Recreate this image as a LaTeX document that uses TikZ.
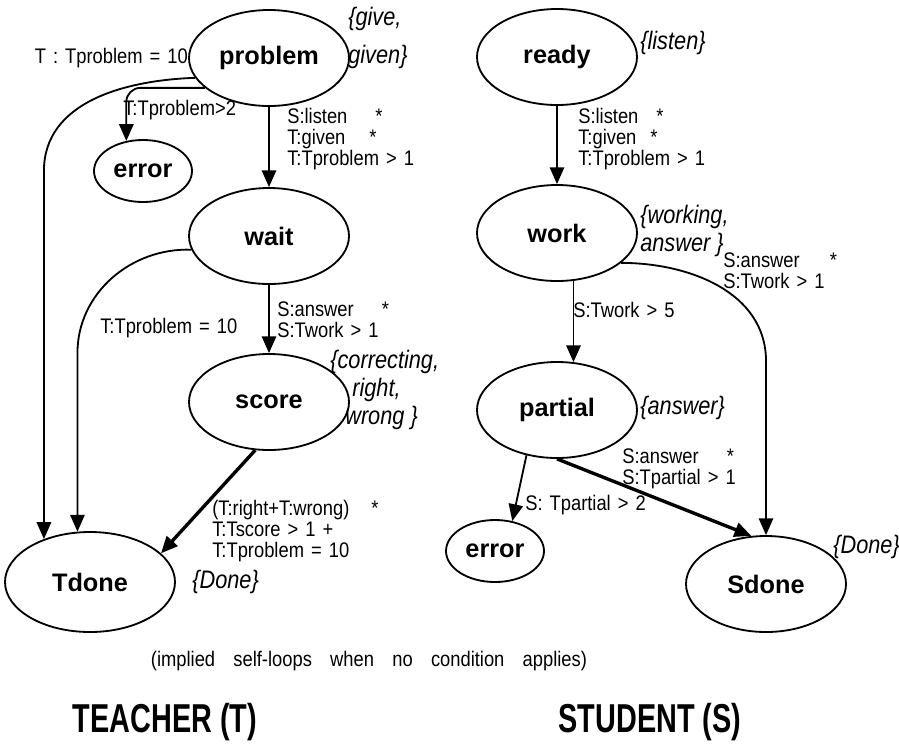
\documentclass[tikz,border=0pt]{standalone}
\usepackage{fontspec}
\setmainfont{Liberation Sans}
\newfontfamily\condfam[FakeStretch=0.87]{Liberation Sans}
\newfontfamily\tagfam[FakeStretch=0.86]{Liberation Sans}
\usepackage{graphicx}
\usetikzlibrary{arrows.meta,
                calc,
                positioning,
                shapes.geometric}
\newcommand{\condfont}{\condfam\fontsize{15}{15}\selectfont\spaceskip 5pt\relax}
\newcommand{\notefont}{\condfam\fontsize{15}{15}\selectfont\spaceskip 13pt\relax}

\begin{document}
\begin{tikzpicture}[x=0.25mm, y=-0.25mm,
  state/.style={draw, ellipse, line width=1.3pt, inner sep=0pt,
    minimum width=40mm, minimum height=24mm,
    font=\fontsize{18}{20}\selectfont\bfseries},
  small/.style={minimum width=24.5mm, minimum height=15.5mm},
  cond/.style={align=left, anchor=west, inner sep=0pt, font=\condfont},
  tag/.style={align=left, anchor=west, inner sep=0pt,
    font=\tagfam\fontsize{18}{20}\selectfont\itshape},
  arr/.style={line width=1.3pt, -{Triangle[length=4.2mm,width=3.6mm]}},
  heavy/.style={arr, line width=2.4pt}]
\useasboundingbox (0,0) rectangle (899,749);

\node[state] (problem) at (269,58) {problem};
\node[state,small] (errT) at (143,171) {error};
\node[state] (wait) at (269,236) {wait};
\node[state] (score) at (269,402) {score};
\node[state, minimum width=42.5mm, minimum height=25mm] (Tdone) at (90,582) {Tdone};

\node[state] (ready) at (557,57) {ready};
\node[state] (work) at (557,233) {work};
\node[state] (partial) at (557,410) {partial};
\node[state,small] (errS) at (495,551) {error};
\node[state] (Sdone) at (766,584) {Sdone};

\draw[arr] (problem) -- (wait);
\draw[arr] (wait) -- (score);
\draw[arr] (problem.195) to[out=182,in=90] (Tdone.137 |- errT.center) -- (Tdone.137);
\draw[arr, rounded corners=10pt] (problem.205) -| (errT.119);
\draw[arr] (wait.190) to[out=178,in=90] (Tdone.104 |- score.north) -- (Tdone.104);
\draw[heavy] (score.254) -- (Tdone.22);

\draw[arr] (ready) -- (work);
\draw[arr] (work.289) -- (partial.71);
\draw[arr] (work.335) to[out=0,in=90] (Sdone.north |- partial.north) -- (Sdone.north);
\draw[arr] (partial.236) -- (errS.60);
\draw[heavy] (partial.south) -- (Sdone.107);

\node[cond, anchor=east] (c0) at (problem.west) {T : Tproblem = 10};
\node[cond] (c1) at (123,110) {T:Tproblem>2};
\node[cond] (c2) at (287,139) {S:listen\hspace*{7mm}*\\T:given\hspace*{6mm}*\\T:Tproblem > 1};
\node[cond] (c3) at (277,320) {S:answer\hspace*{7mm}*\\S:Twork > 1};
\node[cond] (c4) at (100,328) {T:Tproblem = 10};
\node[cond] (c5) at (212,531) {(T:right+T:wrong)\hspace*{5.5mm}*\\T:Tscore > 1 +\\T:Tproblem = 10};
\node[cond] (c6) at (578,139) {S:listen\hspace*{4.5mm}*\\T:given\hspace*{3.5mm}*\\T:Tproblem > 1};
\node[cond] (c7) at (573,310) {S:Twork > 5};
\node[cond] (c8) at (723,271) {S:answer\hspace*{7.5mm}*\\S:Twork > 1};
\node[cond] (c9) at (525,505) {S: Tpartial > 2};
\node[cond] (c10) at (622,469) {S:answer\hspace*{7mm}*\\S:Tpartial > 1};

\node[tag] (t1) at (348,38) {\{give,\\[7pt]given\}};
\node[tag] (t2) at (640,43) {\{listen\}};
\node[tag] (t3) at (640,231) {\{working,\\answer \}};
\node[tag] (t4) at (330,390) {\{correcting,\\\hspace*{5.5mm}right,\\\hspace*{3.75mm}wrong \}};
\node[tag] (t5) at (640,408) {\{answer\}};
\node[tag] (t6) at (192,582) {\{Done\}};
\node[tag] (t7) at (833,547) {\{Done\}};

\node[font=\notefont] (note) at (369,661)
  {(implied self-loops when no condition applies)};
\node[font=\fontsize{20.5}{24}\selectfont\bfseries] (teacher) at (165,722)
  {\scalebox{1}[1.4]{TEACHER (T)}};
\node[font=\fontsize{20.5}{24}\selectfont\bfseries] (student) at (650,722)
  {\scalebox{1}[1.4]{STUDENT (S)}};
\end{tikzpicture}
\end{document}
